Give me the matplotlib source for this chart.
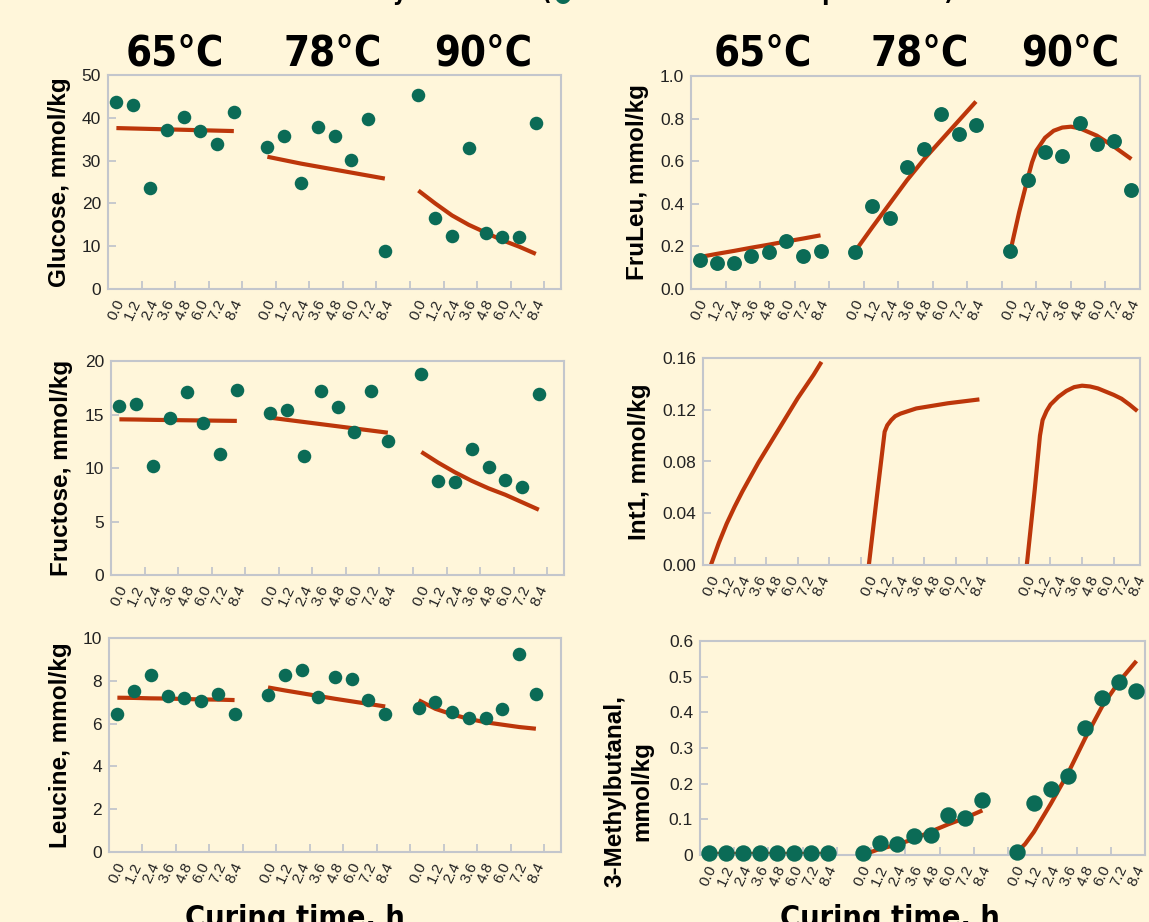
import os
import numpy as np
import matplotlib.pyplot as plt
from matplotlib import font_manager

# data: 3 curing temperatures, 8 sampling times each
times = [0.0, 1.2, 2.4, 3.6, 4.8, 6.0, 7.2, 8.4]
time_labels = ['0.0', '1.2', '2.4', '3.6', '4.8', '6.0', '7.2', '8.4']
temps = ['65°C', '78°C', '90°C']

glucose_65 = [43.8, 43.0, 23.5, 37.1, 40.2, 36.9, 33.8, 41.3]
glucose_78 = [33.2, 35.7, 24.7, 37.9, 35.8, 30.1, 39.7, 8.9]
glucose_90 = [45.3, 16.7, 12.4, 32.9, 13.0, 12.1, 12.1, 38.9]
glucose_fit_65 = [37.6, 37.5, 37.4, 37.3, 37.2, 37.1, 37.0, 36.9]
glucose_fit_78 = [30.9, 30.1, 29.3, 28.6, 27.9, 27.2, 26.5, 25.8]
glucose_fit_90 = [23.0, 20.0, 17.2, 15.0, 13.2, 11.4, 9.9, 8.2]

fructose_65 = [15.75, 16.0, 10.2, 14.7, 17.1, 14.2, 11.3, 17.3]
fructose_78 = [15.1, 15.4, 11.1, 17.2, 15.7, 13.4, 17.2, 12.5]
fructose_90 = [18.8, 8.75, 8.65, 11.75, 10.1, 8.85, 8.2, 16.9]
fructose_fit_65 = [14.55, 14.53, 14.5, 14.48, 14.46, 14.44, 14.42, 14.4]
fructose_fit_78 = [14.7, 14.5, 14.3, 14.1, 13.9, 13.7, 13.5, 13.3]
fructose_fit_90 = [11.5, 10.5, 9.6, 8.8, 8.1, 7.5, 6.8, 6.1]

leucine_65 = [6.47, 7.51, 8.27, 7.29, 7.21, 7.04, 7.37, 6.47]
leucine_78 = [7.35, 8.28, 8.52, 7.23, 8.19, 8.09, 7.10, 6.46]
leucine_90 = [6.74, 7.02, 6.54, 6.28, 6.25, 6.66, 9.26, 7.37]
leucine_fit_65 = [7.21, 7.2, 7.18, 7.17, 7.15, 7.13, 7.12, 7.10]
leucine_fit_78 = [7.69, 7.55, 7.42, 7.29, 7.16, 7.04, 6.92, 6.80]
leucine_fit_90 = [7.09, 6.69, 6.43, 6.22, 6.06, 5.95, 5.84, 5.76]

fruleu_65 = [0.138, 0.122, 0.122, 0.154, 0.172, 0.224, 0.154, 0.180]
fruleu_78 = [0.172, 0.389, 0.332, 0.574, 0.655, 0.820, 0.726, 0.771]
fruleu_90 = [0.180, 0.511, 0.643, 0.624, 0.781, 0.683, 0.693, 0.467]
fruleu_fit_65 = [0.150, 0.165, 0.179, 0.194, 0.208, 0.223, 0.237, 0.252]
fruleu_fit_78 = [0.177, 0.29, 0.40, 0.51, 0.61, 0.70, 0.79, 0.88]
fruleu_fit_t_90 = [0, 0.3, 0.6, 0.9, 1.2, 1.5, 1.8, 2.4, 3.0, 3.6, 4.2, 4.8, 6.0, 7.2, 8.4]
fruleu_fit_90 = [0.18, 0.27, 0.36, 0.44, 0.52, 0.595, 0.65, 0.71, 0.743, 0.758, 0.762,
                 0.755, 0.72, 0.668, 0.61]

int1_fit_t_65 = [0, 0.6, 1.2, 1.8, 2.4, 3.0, 3.6, 4.2, 4.8, 5.4, 6.0, 6.6, 7.2, 7.8, 8.4]
int1_fit_65 = [0, 0.017, 0.032, 0.045, 0.057, 0.068, 0.079, 0.089, 0.099, 0.109,
               0.119, 0.129, 0.138, 0.147, 0.157]
int1_fit_t_78 = [0, 0.6, 1.2, 1.4, 1.7, 2.0, 2.4, 3.0, 3.6, 6.0, 8.4]
int1_fit_78 = [0, 0.052, 0.103, 0.108, 0.112, 0.115, 0.117, 0.119, 0.121, 0.125, 0.128]
int1_fit_t_90 = [0, 0.6, 1.0, 1.2, 1.5, 1.8, 2.4, 3.0, 3.6, 4.2, 4.8, 5.4, 6.0, 6.6, 7.2, 7.8, 8.4]
int1_fit_90 = [0, 0.058, 0.100, 0.112, 0.119, 0.124, 0.130, 0.1345, 0.1375, 0.1386, 0.138,
               0.1365, 0.134, 0.1315, 0.1285, 0.124, 0.119]

mb_65 = [0.005, 0.005, 0.005, 0.005, 0.005, 0.007, 0.005, 0.005]
mb_78 = [0.005, 0.034, 0.030, 0.052, 0.057, 0.111, 0.105, 0.155]
mb_90 = [0.0075, 0.146, 0.185, 0.221, 0.356, 0.440, 0.485, 0.460]
mb_fit_65 = [0.003, 0.003, 0.003, 0.003, 0.003, 0.003, 0.003, 0.003]
mb_fit_78 = [0.0, 0.017, 0.029, 0.045, 0.066, 0.086, 0.104, 0.125]
mb_fit_t_90 = [0, 0.6, 1.2, 2.4, 3.6, 4.8, 6.0, 7.2, 8.4]
mb_fit_90 = [0.007, 0.031, 0.064, 0.144, 0.229, 0.327, 0.417, 0.487, 0.544]

BG = '#FFF6DA'
DOT = '#0B6B56'
LINE = '#BC360A'
EDGE = '#C3C6CC'
W, H = 1149, 922

plt.rcParams['font.family'] = ['Liberation Sans', 'DejaVu Sans']

# look for a narrow bold face for the big headings (Calibri-like look)
head_font = None
for f in font_manager.fontManager.ttflist:
    base = os.path.basename(f.fname)
    narrow = ('Narrow' in f.name or 'Condensed' in f.name or 'Condensed' in base
              or 'Narrow' in base or str(f.stretch) in ('condensed', 'semi-condensed'))
    if narrow and 'Bold' in base and 'Italic' not in base and 'Oblique' not in base:
        head_font = f.fname
        break
if head_font:
    HEAD = dict(fontproperties=font_manager.FontProperties(fname=head_font))
    head_scale = 1.0
else:
    HEAD = dict(fontweight='bold', family=['Liberation Sans', 'DejaVu Sans'])
    head_scale = 0.85

fig = plt.figure(figsize=(W / 100, H / 100), dpi=100, facecolor=BG)


def box(l, r, t, b):
    return [l / W, 1 - b / H, (r - l) / W, (b - t) / H]


def panel(rect, pts, fits, ylim, yticks, ylabels, ylabel, xmax, step, size):
    ax = fig.add_axes(rect)
    ax.set_facecolor(BG)
    for g in range(3):
        ft, fy = fits[g]
        ax.plot([t + g * step for t in ft], fy, color=LINE, lw=3, zorder=2,
                solid_capstyle='butt', solid_joinstyle='round', clip_on=False)
        if pts is not None:
            ax.scatter([t + g * step for t in times], pts[g], s=size, color=DOT,
                       lw=0, zorder=3, clip_on=False)
    ax.set_xlim(-0.6, xmax)
    ax.set_ylim(*ylim)
    pos = [t + g * step for g in range(3) for t in times]
    ax.set_xticks(pos)
    ax.set_xticklabels(time_labels * 3, rotation=65, fontsize=11, color='#222222')
    ax.tick_params(axis='x', which='major', length=0, pad=6)
    ax.set_xticks(np.arange(1.8, xmax, 2.4), minor=True)
    ax.tick_params(axis='x', which='minor', direction='in', length=6, width=1.3, color=EDGE)
    ax.set_yticks(yticks)
    ax.set_yticklabels(ylabels, fontsize=12.5, color='#222222')
    ax.tick_params(axis='y', direction='in', length=6, width=1.3, color=EDGE, pad=5)
    for sp in ax.spines.values():
        sp.set_color(EDGE)
        sp.set_linewidth(1.5)
    ax.set_ylabel(ylabel, fontsize=17.5, fontweight='bold', labelpad=8)
    return ax


# left column
ax1 = panel(box(108, 561, 75, 289),
            [glucose_65, glucose_78, glucose_90],
            [(times, glucose_fit_65), (times, glucose_fit_78), (times, glucose_fit_90)],
            (0, 50), [0, 10, 20, 30, 40, 50], ['0', '10', '20', '30', '40', '50'],
            'Glucose, mmol/kg', 31.8, 10.8, 95)
ax2 = panel(box(111, 564, 361, 575),
            [fructose_65, fructose_78, fructose_90],
            [(times, fructose_fit_65), (times, fructose_fit_78), (times, fructose_fit_90)],
            (0, 20), [0, 5, 10, 15, 20], ['0', '5', '10', '15', '20'],
            'Fructose, mmol/kg', 31.8, 10.8, 95)
ax3 = panel(box(109, 561, 638, 852),
            [leucine_65, leucine_78, leucine_90],
            [(times, leucine_fit_65), (times, leucine_fit_78), (times, leucine_fit_90)],
            (0, 10), [0, 2, 4, 6, 8, 10], ['0', '2', '4', '6', '8', '10'],
            'Leucine, mmol/kg', 31.8, 10.8, 95)

# right column
ax4 = panel(box(691, 1140, 76, 289),
            [fruleu_65, fruleu_78, fruleu_90],
            [(times, fruleu_fit_65), (times, fruleu_fit_78), (fruleu_fit_t_90, fruleu_fit_90)],
            (0, 1.0), [0, 0.2, 0.4, 0.6, 0.8, 1.0], ['0.0', '0.2', '0.4', '0.6', '0.8', '1.0'],
            'FruLeu, mmol/kg', 30.6, 10.8, 115)
ax5 = panel(box(703, 1140, 358, 565), None,
            [(int1_fit_t_65, int1_fit_65), (int1_fit_t_78, int1_fit_78), (int1_fit_t_90, int1_fit_90)],
            (0, 0.16), [0, 0.04, 0.08, 0.12, 0.16], ['0.00', '0.04', '0.08', '0.12', '0.16'],
            'Int1, mmol/kg', 32.6, 12.0, 0)
ax6 = panel(box(700, 1145, 641, 855),
            [mb_65, mb_78, mb_90],
            [(times, mb_fit_65), (times, mb_fit_78), (mb_fit_t_90, mb_fit_90)],
            (0, 0.6), [0, 0.1, 0.2, 0.3, 0.4, 0.5, 0.6], ['0', '0.1', '0.2', '0.3', '0.4', '0.5', '0.6'],
            '3-Methylbutanal,\nmmol/kg', 30.6, 10.8, 140)
ax6.yaxis.set_label_coords(-0.105, 0.3)

# temperature headers
for xs in ([175, 333, 483], [763, 920, 1070]):
    for x, lab in zip(xs, temps):
        fig.text(x / W, 1 - 54 / H, lab, ha='center', va='center',
                 fontsize=30 * head_scale, **HEAD)

# x axis titles, cut at the bottom edge
for x in (295, 890):
    fig.text(x / W, 1 - 904 / H, 'Curing time, h', ha='center', va='top',
             fontsize=22 * head_scale, **HEAD)

# title line, only its lower edge shows at the top of the picture
fig.text(552 / W, 1.0, 'Kinetic data fitted by the model (', ha='right',
         va='baseline', fontsize=17 * head_scale, **HEAD)
fig.text(563 / W, 1 - 1 / H, '●', ha='center', va='baseline', fontsize=15, color=DOT,
         family=['DejaVu Sans'])
fig.text(574 / W, 1.0, ' measured vs model prediction)', ha='left',
         va='baseline', fontsize=17 * head_scale, **HEAD)

fig.savefig('out.png', dpi=100, facecolor=BG)
